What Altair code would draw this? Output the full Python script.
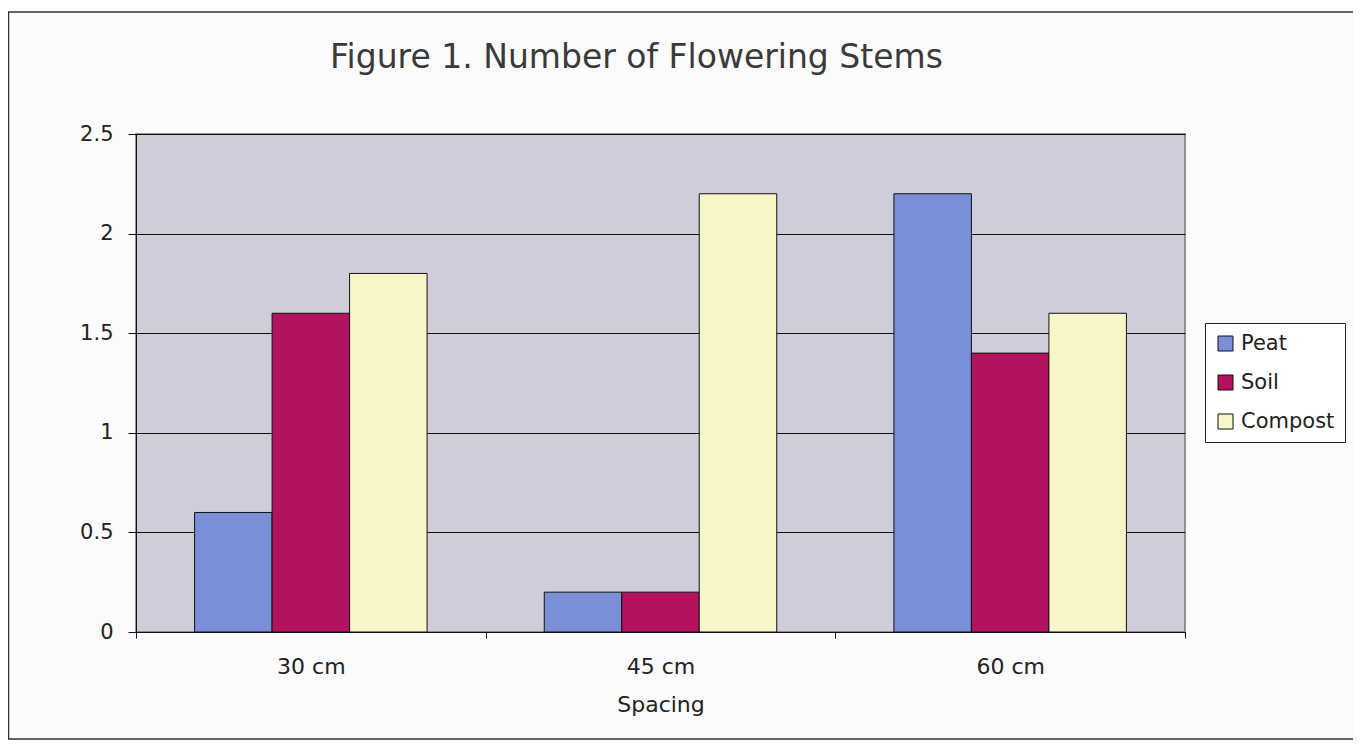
import altair as alt
import pandas as pd

spacings = ["30 cm", "45 cm", "60 cm"]
media = ["Peat", "Soil", "Compost"]
peat = [0.6, 0.2, 2.2]
soil = [1.6, 0.2, 1.4]
compost = [1.8, 2.2, 1.6]
colors = ["#7b8ed8", "#b3125f", "#f8f6c8"]
title_text = "Figure 1. Number of Flowering Stems"

rows = []
for i, s in enumerate(spacings):
    for m, vals in zip(media, [peat, soil, compost]):
        rows.append({"Spacing": s, "Medium": m, "Value": vals[i]})
df = pd.DataFrame(rows)

FONT = "DejaVu Sans"

bars = alt.Chart(df).mark_bar(stroke="#111", strokeWidth=1).encode(
    x=alt.X("Spacing:N", sort=spacings,
            scale=alt.Scale(paddingInner=0, paddingOuter=0),
            axis=alt.Axis(title="Spacing", labelAngle=0, tickBand="extent",
                          labelFontSize=22, labelFont=FONT, labelColor="#222",
                          labelPadding=18, tickSize=6, tickColor="#111",
                          domainColor="#111", titleFont=FONT, titleFontSize=22,
                          titleFontWeight="normal", titleColor="#222",
                          titlePadding=17, grid=False)),
    xOffset=alt.XOffset("Medium:N", sort=media,
                        scale=alt.Scale(paddingInner=0, paddingOuter=0.756)),
    y=alt.Y("Value:Q", scale=alt.Scale(domain=[0, 2.5], nice=False),
            axis=alt.Axis(title=None, values=[0, 0.5, 1, 1.5, 2, 2.5],
                          format="~g",
                          labelFontSize=21, labelFont=FONT, labelColor="#222",
                          labelPadding=15, tickSize=8, tickColor="#111",
                          domainColor="#111", grid=True, gridColor="#111",
                          gridWidth=1, gridOpacity=1)),
    color=alt.Color("Medium:N", sort=media,
                    scale=alt.Scale(domain=media, range=colors),
                    legend=alt.Legend(title=None, orient="none",
                                      legendX=1069, legendY=189,
                                      symbolType="square", symbolSize=225,
                                      symbolStrokeColor="#111", symbolStrokeWidth=1,
                                      symbolOpacity=1,
                                      labelFont=FONT, labelFontSize=21,
                                      labelColor="#222", labelOffset=5,
                                      rowPadding=17, padding=10,
                                      strokeColor="#222", fillColor="#ffffff")),
)

frame = alt.Chart(pd.DataFrame({"a": [0]})).mark_rect(
    fill="#ffffff", fillOpacity=0, stroke="#333", strokeWidth=1.5
).encode(
    x=alt.value(-127.5), x2=alt.value(1218.5),
    y=alt.value(-122), y2=alt.value(605),
)

title = alt.Chart(pd.DataFrame({"t": [title_text]})).mark_text(
    font=FONT, fontSize=33, color="#3a3a3a", align="left", baseline="middle"
).encode(
    text="t:N", x=alt.value(194), y=alt.value(-76),
)

chart = alt.layer(frame, bars, title).properties(
    width=1049, height=498,
    autosize=alt.AutoSizeParams(type="none"),
    padding={"left": 128, "top": 126, "right": 168, "bottom": 108},
    background="#fbfbfb",
).configure_view(
    fill="#cecdd9", stroke="#777", strokeWidth=1.5
)

chart.save("out.html", embed_options={"renderer": "svg", "actions": False})
